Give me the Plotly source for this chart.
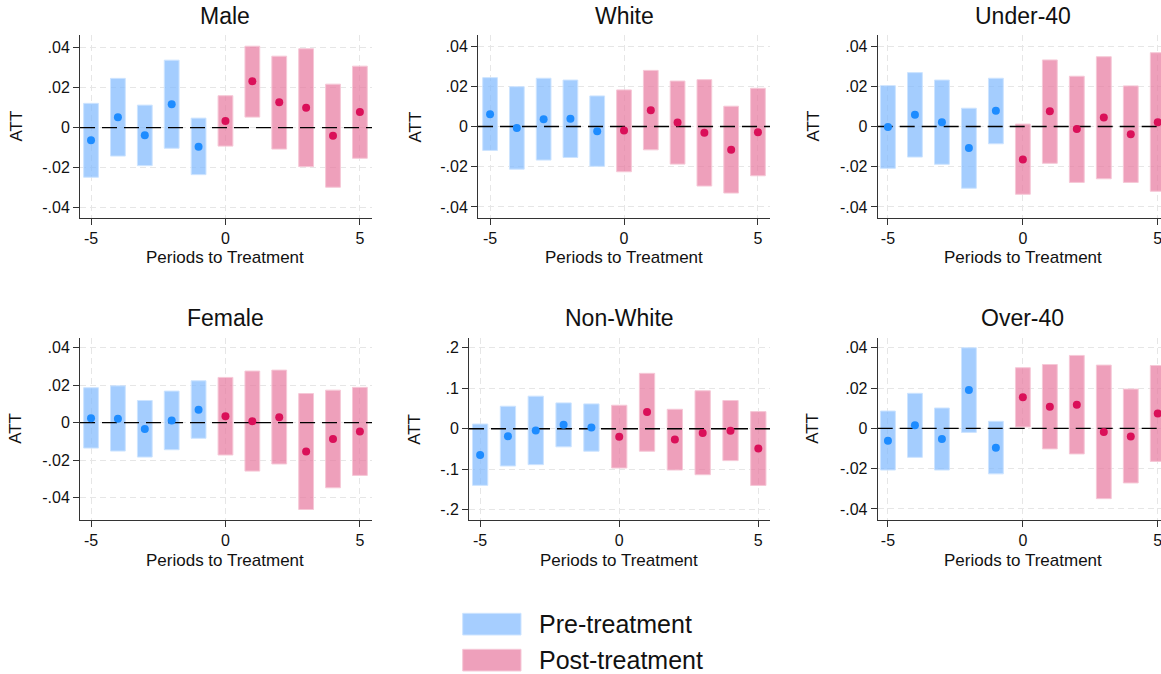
import plotly.graph_objects as go

W, H = 1161, 674

periods = [-5, -4, -3, -2, -1, 0, 1, 2, 3, 4, 5]
pre_periods = [-5, -4, -3, -2, -1]
post_periods = [0, 1, 2, 3, 4, 5]

# ---- data (point estimate, lower CI, upper CI) per panel ----
male_att = [-0.0063, 0.0052, -0.0038, 0.0117, -0.0095, 0.0033, 0.0232, 0.0127, 0.0100, -0.0040, 0.0078]
male_lo = [-0.0248, -0.0142, -0.0190, -0.0103, -0.0235, -0.0092, 0.0053, -0.0107, -0.0195, -0.0298, -0.0153]
male_hi = [0.0122, 0.0247, 0.0113, 0.0338, 0.0048, 0.0160, 0.0408, 0.0358, 0.0395, 0.0218, 0.0308]

white_att = [0.0061, -0.0007, 0.0036, 0.0038, -0.0023, -0.0020, 0.0081, 0.0020, -0.0031, -0.0116, -0.0028]
white_lo = [-0.0119, -0.0212, -0.0167, -0.0154, -0.0198, -0.0225, -0.0116, -0.0187, -0.0296, -0.0331, -0.0245]
white_hi = [0.0243, 0.0198, 0.0240, 0.0231, 0.0152, 0.0182, 0.0279, 0.0226, 0.0233, 0.0101, 0.0190]

under40_att = [-0.0003, 0.0058, 0.0021, -0.0107, 0.0078, -0.0164, 0.0076, -0.0013, 0.0045, -0.0038, 0.0021]
under40_lo = [-0.0208, -0.0152, -0.0188, -0.0307, -0.0086, -0.0337, -0.0183, -0.0278, -0.0260, -0.0278, -0.0322]
under40_hi = [0.0203, 0.0268, 0.0231, 0.0091, 0.0240, 0.0012, 0.0331, 0.0250, 0.0347, 0.0202, 0.0367]

female_att = [0.0023, 0.0021, -0.0034, 0.0011, 0.0068, 0.0034, 0.0007, 0.0029, -0.0155, -0.0088, -0.0048]
female_lo = [-0.0136, -0.0152, -0.0184, -0.0145, -0.0084, -0.0173, -0.0259, -0.0221, -0.0464, -0.0348, -0.0282]
female_hi = [0.0186, 0.0196, 0.0118, 0.0168, 0.0223, 0.0241, 0.0275, 0.0280, 0.0155, 0.0173, 0.0188]

nonwhite_att = [-0.0647, -0.0183, -0.0041, 0.0100, 0.0033, -0.0199, 0.0415, -0.0266, -0.0108, -0.0050, -0.0490]
nonwhite_lo = [-0.1400, -0.0921, -0.0888, -0.0448, -0.0556, -0.0971, -0.0556, -0.1021, -0.1137, -0.0788, -0.1402]
nonwhite_hi = [0.0116, 0.0556, 0.0805, 0.0639, 0.0614, 0.0581, 0.1369, 0.0481, 0.0938, 0.0697, 0.0423]

over40_att = [-0.0061, 0.0015, -0.0053, 0.0190, -0.0096, 0.0154, 0.0107, 0.0117, -0.0018, -0.0040, 0.0074]
over40_lo = [-0.0207, -0.0144, -0.0207, -0.0020, -0.0226, 0.0007, -0.0102, -0.0127, -0.0349, -0.0271, -0.0164]
over40_hi = [0.0086, 0.0174, 0.0101, 0.0400, 0.0035, 0.0301, 0.0317, 0.0362, 0.0314, 0.0195, 0.0312]

small_ticks = [-0.04, -0.02, 0, 0.02, 0.04]
small_labels = ["-.04", "-.02", "0", ".02", ".04"]
big_ticks = [-0.2, -0.1, 0, 0.1, 0.2]
big_labels = ["-.2", "-.1", "0", ".1", ".2"]
x_ticks = [-5, 0, 5]
x_labels = ["-5", "0", "5"]

titles = ["Male", "White", "Under-40", "Female", "Non-White", "Over-40"]
legend_labels = ["Pre-treatment", "Post-treatment"]

# ---- layout geometry (pixels) ----
panels = [
    dict(title=titles[0], att=male_att, lo=male_lo, hi=male_hi, xpx=(80, 372), ypx=(35, 218),
         xr=(-5.41, 5.45), yr=(-0.0452, 0.0464), ticks=(small_ticks, small_labels), attx=16, ty=16.5, px_y=257),
    dict(title=titles[1], att=white_att, lo=white_lo, hi=white_hi, xpx=(478, 770), ypx=(35, 218),
         xr=(-5.45, 5.45), yr=(-0.0455, 0.0455), ticks=(small_ticks, small_labels), attx=415, ty=16.5, px_y=257),
    dict(title=titles[2], att=under40_att, lo=under40_lo, hi=under40_hi, xpx=(877.7, 1161), ypx=(35, 218),
         xr=(-5.38, 5.12), yr=(-0.0455, 0.0455), ticks=(small_ticks, small_labels), attx=813, ty=16.5, px_y=257),
    dict(title=titles[3], att=female_att, lo=female_lo, hi=female_hi, xpx=(80, 372), ypx=(337.7, 520),
         xr=(-5.41, 5.45), yr=(-0.052, 0.0453), ticks=(small_ticks, small_labels), attx=16, ty=318, px_y=560),
    dict(title=titles[4], att=nonwhite_att, lo=nonwhite_lo, hi=nonwhite_hi, xpx=(469, 770), ypx=(337.7, 520),
         xr=(-5.40, 5.42), yr=(-0.2256, 0.225), ticks=(big_ticks, big_labels), attx=415, ty=318, px_y=560),
    dict(title=titles[5], att=over40_att, lo=over40_lo, hi=over40_hi, xpx=(877.7, 1161), ypx=(337.7, 520),
         xr=(-5.38, 5.12), yr=(-0.0455, 0.045), ticks=(small_ticks, small_labels), attx=813, ty=318, px_y=560),
]

PRE_FILL = "rgba(125,184,254,0.70)"
POST_FILL = "rgba(231,119,158,0.70)"
PRE_EDGE = "rgba(205,228,255,1)"
POST_EDGE = "rgba(246,200,215,1)"
PRE_DOT = "#1E8CFF"
POST_DOT = "#DA1059"
FONT = "Liberation Sans, Arial, sans-serif"
GRID = "#E6E6E6"
AXIS = "#333333"
TXT = "#111111"

fig = go.Figure()
layout = dict(
    width=W, height=H, margin=dict(l=0, r=0, t=0, b=0),
    paper_bgcolor="white", plot_bgcolor="white", showlegend=False,
    barmode="overlay", font=dict(family=FONT, color=TXT),
)
annotations = []
shapes = []

for i, p in enumerate(panels, start=1):
    xa = f"x{i}" if i > 1 else "x"
    ya = f"y{i}" if i > 1 else "y"
    xkey = f"xaxis{i}" if i > 1 else "xaxis"
    ykey = f"yaxis{i}" if i > 1 else "yaxis"
    npre = len(pre_periods)
    pre_lo, post_lo = p["lo"][:npre], p["lo"][npre:]
    pre_hi, post_hi = p["hi"][:npre], p["hi"][npre:]
    pre_att, post_att = p["att"][:npre], p["att"][npre:]

    for per, lo, hi, fill, edge in [(pre_periods, pre_lo, pre_hi, PRE_FILL, PRE_EDGE),
                                    (post_periods, post_lo, post_hi, POST_FILL, POST_EDGE)]:
        fig.add_trace(go.Bar(
            x=per, base=lo, y=[h - l for h, l in zip(hi, lo)], width=0.55,
            marker=dict(color=fill, line=dict(color=edge, width=1)),
            xaxis=xa, yaxis=ya, hoverinfo="skip",
        ))
    # zero reference line
    fig.add_trace(go.Scatter(
        x=[p["xr"][0], p["xr"][1]], y=[0, 0], mode="lines",
        line=dict(color="black", width=1.3, dash="15px,7px"),
        xaxis=xa, yaxis=ya, hoverinfo="skip",
    ))
    for per, att, col in [(pre_periods, pre_att, PRE_DOT), (post_periods, post_att, POST_DOT)]:
        fig.add_trace(go.Scatter(
            x=per, y=att, mode="markers",
            marker=dict(color=col, size=8, line=dict(width=0)),
            xaxis=xa, yaxis=ya, hoverinfo="skip",
        ))

    x0, x1 = p["xpx"]
    y0, y1 = p["ypx"]
    layout[xkey] = dict(
        domain=[x0 / W, min(x1 / W, 1.0)], range=list(p["xr"]), anchor=ya,
        tickvals=x_ticks, ticktext=x_labels, ticks="outside", ticklen=6, tickcolor=AXIS,
        showline=True, linecolor=AXIS, linewidth=1, showgrid=True, gridcolor=GRID,
        griddash="6px,4px", gridwidth=1, zeroline=False, ticklabeloverflow="allow",
        tickfont=dict(size=16, family=FONT, color=TXT), fixedrange=True,
    )
    tv, tt = p["ticks"]
    layout[ykey] = dict(
        domain=[1 - y1 / H, 1 - y0 / H], range=list(p["yr"]), anchor=xa,
        tickvals=tv, ticktext=tt, ticks="outside", ticklen=6, tickcolor=AXIS,
        showline=True, linecolor=AXIS, linewidth=1, showgrid=True, gridcolor=GRID,
        griddash="6px,4px", gridwidth=1, zeroline=False,
        tickfont=dict(size=16, family=FONT, color=TXT), fixedrange=True,
    )
    annotations.append(dict(text=p["title"], xref=xa, x=0, yref="paper", y=1 - p["ty"] / H,
                            showarrow=False, xanchor="center", yanchor="middle",
                            font=dict(size=23, family=FONT, color=TXT)))
    annotations.append(dict(text="Periods to Treatment", xref=xa, x=0, yref="paper", y=1 - p["px_y"] / H,
                            showarrow=False, xanchor="center", yanchor="middle",
                            font=dict(size=17, family=FONT, color=TXT)))
    annotations.append(dict(text="ATT", xref="paper", x=p["attx"] / W, yref="paper",
                            y=1 - (y0 + y1) / 2 / H, textangle=-90, showarrow=False,
                            xanchor="center", yanchor="middle",
                            font=dict(size=17, family=FONT, color=TXT)))

# custom legend
leg = [(legend_labels[0], "rgba(166,206,255,1)", "rgba(205,228,255,1)", 613.3, 635),
       (legend_labels[1], "rgba(238,160,187,1)", "rgba(246,200,215,1)", 649.3, 671)]
for text, fill, edge, ly0, ly1 in leg:
    shapes.append(dict(type="rect", xref="paper", yref="paper",
                       x0=462.7 / W, x1=521 / W, y0=1 - ly1 / H, y1=1 - ly0 / H,
                       fillcolor=fill, line=dict(color=edge, width=1)))
    annotations.append(dict(text=text, xref="paper", yref="paper", x=536.7 / W, y=1 - (ly0 + ly1) / 2 / H,
                            showarrow=False, xanchor="left", yanchor="middle",
                            font=dict(size=25, family=FONT, color=TXT)))

layout["annotations"] = annotations
layout["shapes"] = shapes
fig.update_layout(**layout)
fig.write_html("out.html", config={"displayModeBar": False},
               post_script="document.body.style.margin='0px';document.body.style.overflow='hidden';")
